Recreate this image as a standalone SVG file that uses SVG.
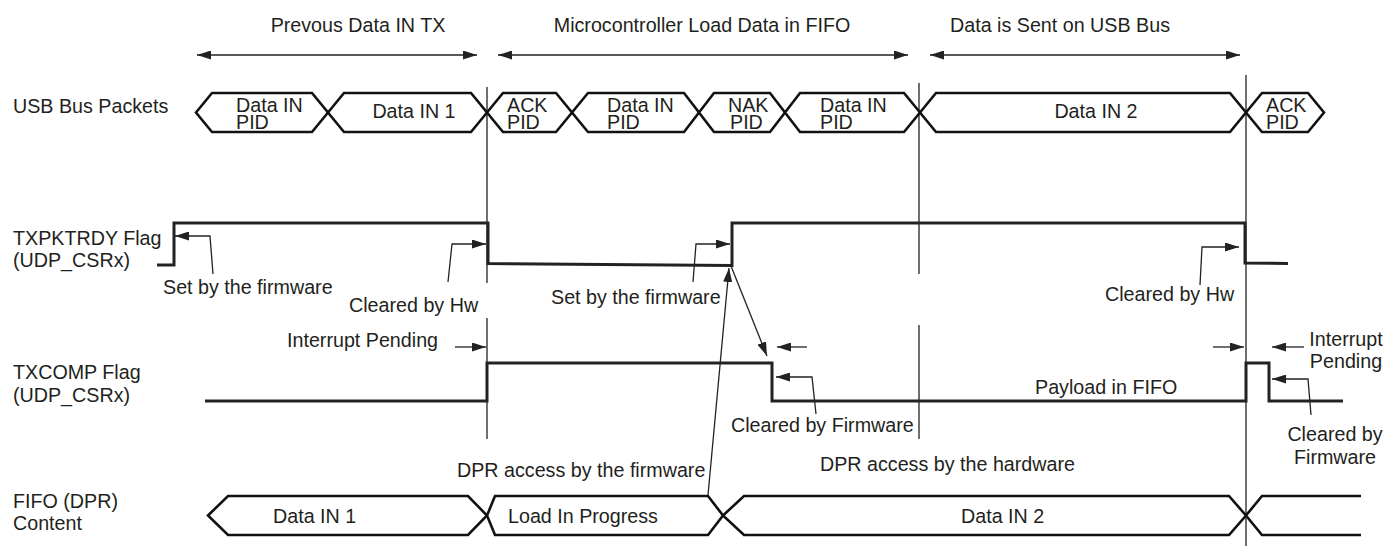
<svg xmlns="http://www.w3.org/2000/svg" width="1385" height="546" viewBox="0 0 1385 546">
<defs>
<style>
text{font-family:"Liberation Sans",Arial,sans-serif;font-size:19.7px;fill:#231f20}
.mid{text-anchor:middle}
.pkt{fill:#fff;stroke:#111;stroke-width:2.6;stroke-linejoin:miter}
.wave{fill:none;stroke:#222;stroke-width:3;stroke-linejoin:miter}
.guide{fill:none;stroke:#222;stroke-width:1.3}
.ann{fill:none;stroke:#222;stroke-width:1.3;marker-end:url(#ah)}
.dbl{fill:none;stroke:#222;stroke-width:1.3;marker-start:url(#ah);marker-end:url(#ah)}
</style>
<marker id="ah" viewBox="0 0 14 9" refX="14" refY="4.5" markerWidth="14" markerHeight="9" markerUnits="userSpaceOnUse" orient="auto-start-reverse">
<path d="M0,0 L14,4.5 L0,9 z" fill="#222"/>
</marker>
</defs>
<rect width="1385" height="546" fill="#fff"/>

<g id="phase-labels">
<text class="mid" x="358" y="32">Prevous Data IN TX</text>
<text class="mid" x="702" y="32">Microcontroller Load Data in FIFO</text>
<text class="mid" x="1060" y="32">Data is Sent on USB Bus</text>
</g>

<g id="row-labels">
<text x="13" y="113">USB Bus Packets</text>
<text x="13" y="245">TXPKTRDY Flag</text>
<text x="13" y="267">(UDP_CSRx)</text>
<text x="13" y="379">TXCOMP Flag</text>
<text x="13" y="402">(UDP_CSRx)</text>
<text x="13" y="508">FIFO (DPR)</text>
<text x="13" y="530">Content</text>
</g>

<g id="guides">
<path class="guide" d="M487,87 V283 M487,318 V439 M919,83 V274 M919,325 V439 M1246,75 V546"/>
</g>

<g id="packet-1">
<polygon class="pkt" points="196,112.5 212,93 312,93 328,112.5 312,132 212,132"/>
<text x="236" y="112">Data IN</text><text x="236" y="129">PID</text>
</g>
<g id="packet-2">
<polygon class="pkt" points="328,112.5 344,93 471,93 487,112.5 471,132 344,132"/>
<text class="mid" x="414" y="118">Data IN 1</text>
</g>
<g id="packet-3">
<polygon class="pkt" points="487,112.5 503,93 556,93 572,112.5 556,132 503,132"/>
<text x="507" y="112">ACK</text><text x="507" y="129">PID</text>
</g>
<g id="packet-4">
<polygon class="pkt" points="572,112.5 588,93 684,93 699,112.5 684,132 588,132"/>
<text x="607" y="112">Data IN</text><text x="607" y="129">PID</text>
</g>
<g id="packet-5">
<polygon class="pkt" points="699,112.5 714,93 770,93 785,112.5 770,132 714,132"/>
<text x="728" y="112">NAK</text><text x="730" y="129">PID</text>
</g>
<g id="packet-6">
<polygon class="pkt" points="785,112.5 800,93 904,93 920,112.5 904,132 800,132"/>
<text x="820" y="112">Data IN</text><text x="820" y="129">PID</text>
</g>
<g id="packet-7">
<polygon class="pkt" points="920,112.5 936,93 1230,93 1246,112.5 1230,132 936,132"/>
<text class="mid" x="1096" y="118">Data IN 2</text>
</g>
<g id="packet-8">
<polygon class="pkt" points="1246,112.5 1262,93 1308,93 1324,112.5 1308,132 1262,132"/>
<text x="1266" y="112">ACK</text><text x="1266" y="129">PID</text>
</g>

<g id="txpktrdy-wave">
<path class="wave" d="M157,265 H174 V223 H488 V263.5 L732,265.5 V223 H1245 V263 L1288,263.5"/>
</g>
<g id="txcomp-wave">
<path class="wave" d="M205,401 H487 V363 H772 V401 H1246 V363 H1269 V401 H1343"/>
</g>

<g id="fifo-1">
<polygon class="pkt" points="208,515.5 228,496 468,496 487,515.5 468,535 228,535"/>
<text x="273" y="523">Data IN 1</text>
</g>
<g id="fifo-2">
<polygon class="pkt" points="487,515.5 495,496 708,496 723,515.5 708,535 495,535"/>
<text x="508" y="523">Load In Progress</text>
</g>
<g id="fifo-3">
<polygon class="pkt" points="723,515.5 744,496 1229,496 1246,515.5 1229,535 744,535"/>
<text x="961" y="523">Data IN 2</text>
</g>
<g id="fifo-4">
<path class="pkt" d="M1361,496 H1262 L1246,515.5 L1262,535 H1361"/>
</g>

<g id="annotations">
<text x="163" y="294">Set by the firmware</text>
<text x="349" y="312">Cleared by Hw</text>
<text x="551" y="304">Set by the firmware</text>
<text x="1105" y="301">Cleared by Hw</text>
<text x="287" y="347">Interrupt Pending</text>
<text x="731" y="432">Cleared by Firmware</text>
<text x="1035" y="394">Payload in FIFO</text>
<text class="mid" x="1346" y="346">Interrupt</text>
<text class="mid" x="1346" y="368">Pending</text>
<text class="mid" x="1335" y="441">Cleared by</text>
<text class="mid" x="1335" y="464">Firmware</text>
<text x="457" y="477">DPR access by the firmware</text>
<text x="820" y="471">DPR access by the hardware</text>
</g>

<g id="connectors">
<path class="dbl" d="M197,55 H477"/>
<path class="dbl" d="M498,55 H908"/>
<path class="dbl" d="M930,55 H1240"/>
<path class="ann" d="M213,274 L210,236 H175"/>
<path class="ann" d="M448,282 L452,244 H486"/>
<path class="ann" d="M693,282 L696,244 H730"/>
<path class="ann" d="M1200,285 L1202,247 H1239"/>
<path class="ann" d="M455,347 H486"/>
<path class="ann" d="M807,347 H777"/>
<path class="ann" d="M731,266 L767,356"/>
<path class="ann" d="M708,495 L729,268"/>
<path class="ann" d="M816,414 L812,377 H776"/>
<path class="ann" d="M1213,347 H1244"/>
<path class="ann" d="M1304,347 H1272"/>
<path class="ann" d="M1311,415 L1308,379 H1272"/>
</g>
</svg>
